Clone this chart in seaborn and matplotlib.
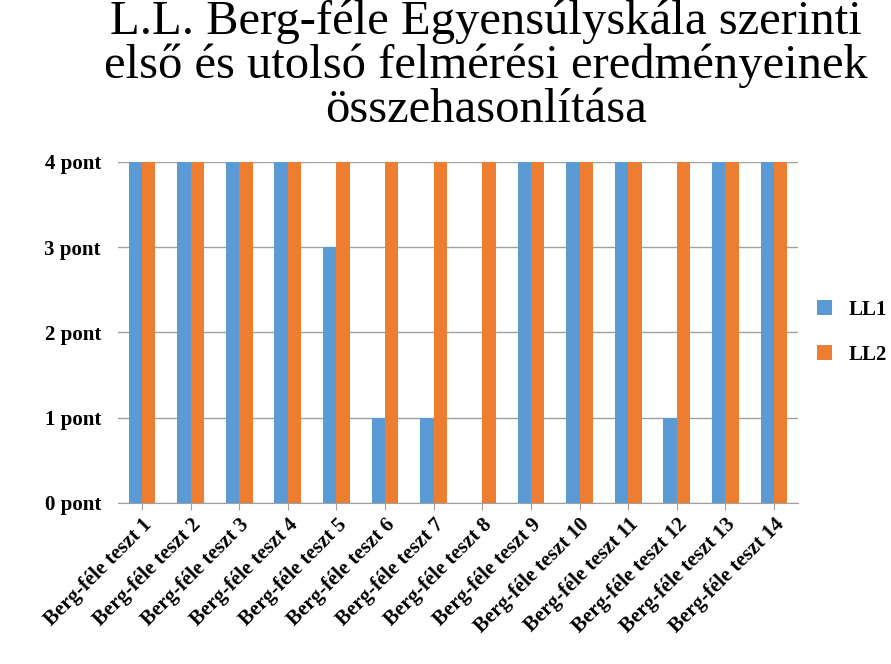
import matplotlib
matplotlib.use("Agg")
import matplotlib.pyplot as plt
import seaborn as sns
import pandas as pd

CATEGORIES = [f"Berg-féle teszt {i}" for i in range(1, 15)]
LL1 = [4, 4, 4, 4, 3, 1, 1, 0, 4, 4, 4, 1, 4, 4]
LL2 = [4] * 14
Y_TICKS = [0, 1, 2, 3, 4]
Y_LABELS = [f"{v} pont" for v in Y_TICKS]
TITLE = "L.L. Berg-féle Egyensúlyskála szerinti\nelső és utolsó felmérési eredményeinek\nösszehasonlítása"

df = pd.DataFrame({
    "teszt": CATEGORIES * 2,
    "pont": LL1 + LL2,
    "sorozat": ["LL1"] * 14 + ["LL2"] * 14,
})

plt.rcParams["font.family"] = "Liberation Serif"
fig = plt.figure(figsize=(8.91, 6.64), dpi=100)
ax = fig.add_axes([0.132, 0.2425, 0.764, 0.514])

sns.barplot(data=df, x="teszt", y="pont", hue="sorozat",
            palette=["#5B9BD5", "#ED7D31"], width=0.55, saturation=1,
            ax=ax, zorder=3)

ax.set_ylim(0, 4)
ax.set_yticks(Y_TICKS)
ax.set_yticklabels(Y_LABELS, fontsize=15, fontweight="bold")
ax.set_xticks(range(len(CATEGORIES)))
ax.set_xticklabels(CATEGORIES, rotation=45, ha="right", rotation_mode="anchor",
                   fontsize=15, fontweight="bold")
ax.set_xlabel("")
ax.set_ylabel("")
ax.grid(axis="y", color="#A0A0A0", linewidth=1, zorder=0)
for s in ["top", "right", "left"]:
    ax.spines[s].set_visible(False)
ax.spines["bottom"].set_color("#A0A0A0")
ax.tick_params(axis="y", length=0, pad=12)
ax.tick_params(axis="x", length=5, color="#A0A0A0")

ax.legend(title=None, frameon=False, loc="center left", bbox_to_anchor=(1.0, 0.5),
          prop={"size": 15, "weight": "bold"}, handlelength=0.7, handleheight=0.7,
          labelspacing=1.2)

fig.text(0.545, 1.0, TITLE, ha="center", va="top", fontsize=35, linespacing=0.98)

fig.savefig("out.png", dpi=100, facecolor="white")
